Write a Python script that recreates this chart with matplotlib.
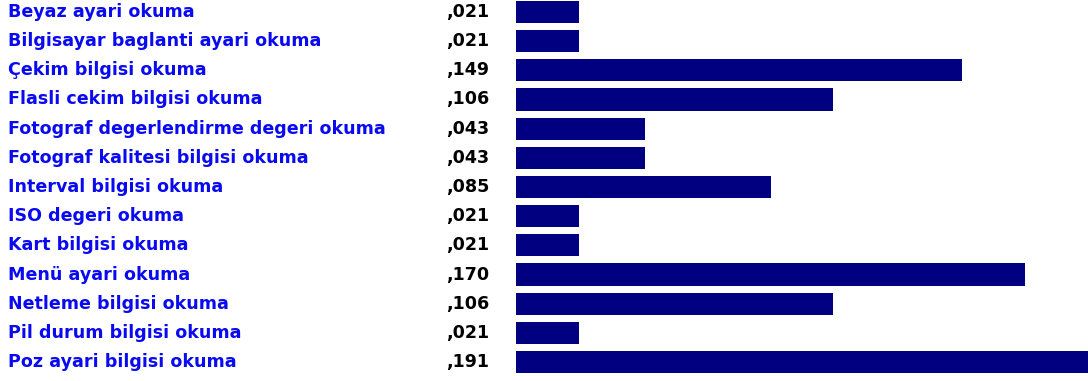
import numpy as np
import matplotlib.pyplot as plt

labels = ["Beyaz ayari okuma", "Bilgisayar baglanti ayari okuma", "Çekim bilgisi okuma",
          "Flasli cekim bilgisi okuma", "Fotograf degerlendirme degeri okuma",
          "Fotograf kalitesi bilgisi okuma", "Interval bilgisi okuma", "ISO degeri okuma",
          "Kart bilgisi okuma", "Menü ayari okuma", "Netleme bilgisi okuma",
          "Pil durum bilgisi okuma", "Poz ayari bilgisi okuma"]
values = [0.021, 0.021, 0.149, 0.106, 0.043, 0.043, 0.085, 0.021, 0.021, 0.170, 0.106, 0.021, 0.191]

fig = plt.figure(figsize=(10.88, 3.81), dpi=100)
ax = fig.add_axes([516/1088, 0, 1 - 516/1088, 1])
y = np.arange(len(values))
ax.barh(y, values, height=0.76, color="#000080", left=0)
ax.set_xlim(0, 0.191)
ax.set_ylim(12.65, -0.41)
ax.axis("off")

for i, (lab, v) in enumerate(zip(labels, values)):
    yf = 1 - (i + 0.41) / 13.06
    fig.text(8/1088, yf, lab, color="#0a0af0", fontsize=12.6, fontweight="bold",
             family="DejaVu Sans", va="center", ha="left")
    fig.text(489/1088, yf, ("%.3f" % v)[1:].replace(".", ","), color="black", fontsize=12.6,
             fontweight="bold", family="DejaVu Sans", va="center", ha="right")

fig.savefig("out.png", dpi=100)
